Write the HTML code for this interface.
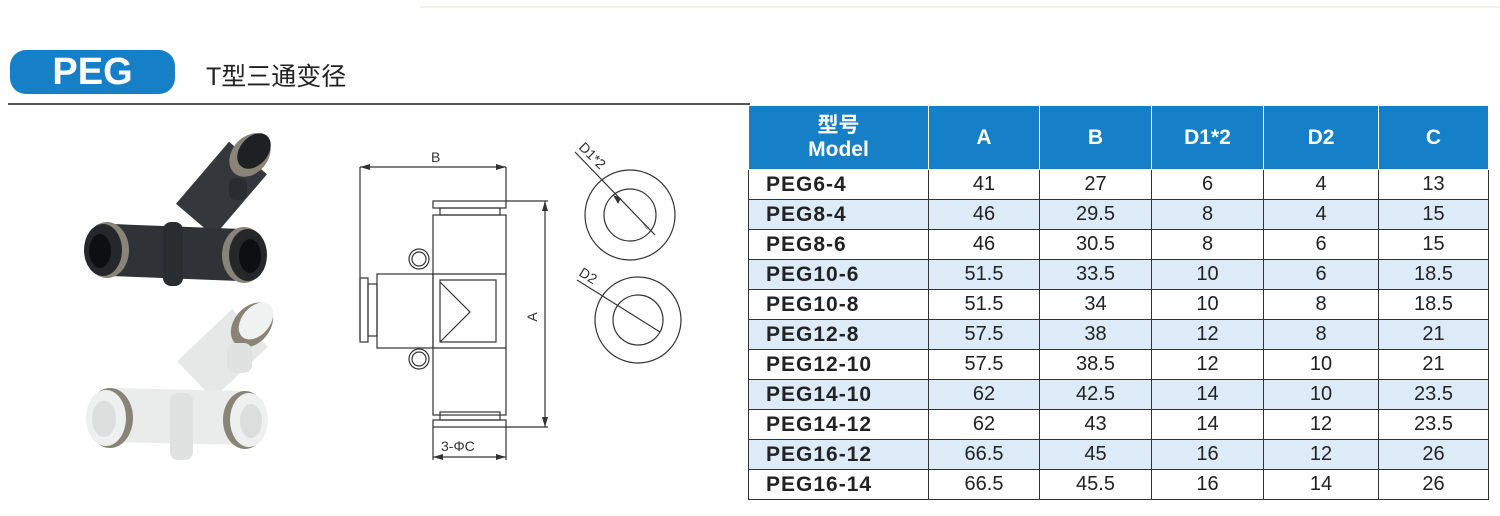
<!DOCTYPE html>
<html><head><meta charset="utf-8"><style>
body{margin:0;width:1500px;height:516px;background:#fff;position:relative;overflow:hidden;font-family:"Liberation Sans","Noto Sans CJK SC",sans-serif}
.badge{position:absolute;left:10px;top:50px;width:165px;height:44px;border-radius:16px;background:#1580c8;color:#fff;font-weight:bold;font-size:38px;text-align:center;line-height:45px}
.title{position:absolute;left:206px;top:57px;font-size:25px;color:#222}
.hr{position:absolute;left:8px;top:103px;width:742px;height:2px;background:#555}
table{position:absolute;left:748px;top:106px;border-collapse:collapse;font-size:20px;color:#222}
td,th{border:1px solid #333;text-align:center;padding:0;height:29px}
th{background:#1580c8;color:#fff;font-size:21px;height:63px;border-color:#fff;border-top:none}
td:first-child{text-align:left;padding-left:17px;font-weight:bold;font-size:21px;letter-spacing:1px}
tr.b td{background:#dcebf7}
</style></head><body>
<div style="position:absolute;left:420px;top:6px;width:1080px;height:2px;background:#f3f3ea"></div>
<div class="badge">PEG</div>
<div class="title">T型三通变径</div>
<div class="hr"></div>
<svg style="position:absolute;left:0;top:110px" width="740" height="406">
<!-- black fitting -->
<g stroke-linecap="butt">
<line x1="195" y1="110" x2="248" y2="48" stroke="#34373b" stroke-width="50"/>
<line x1="112" y1="140" x2="240" y2="145" stroke="#2f3236" stroke-width="52"/>
<ellipse cx="250" cy="45" rx="18" ry="24" transform="rotate(40 250 45)" fill="#8a8478"/>
<ellipse cx="254" cy="41" rx="14" ry="20" transform="rotate(40 254 41)" fill="#1e2023"/>
<ellipse cx="107" cy="140" rx="22" ry="28" fill="#8a8478"/>
<ellipse cx="103" cy="140" rx="19" ry="26" fill="#25282b"/>
<ellipse cx="100" cy="141" rx="11" ry="17" fill="#0e0f10"/>
<ellipse cx="244" cy="145" rx="22" ry="28" fill="#8a8478"/>
<ellipse cx="248" cy="145" rx="19" ry="26" fill="#25282b"/>
<ellipse cx="250" cy="146" rx="11" ry="17" fill="#0e0f10"/>
<rect x="163" y="112" width="20" height="64" rx="8" fill="#2a2d30"/>
<rect x="229" y="68" width="18" height="22" rx="7" fill="#2a2d30"/>
</g>
<!-- white fitting -->
<g>
<line x1="195" y1="270" x2="250" y2="218" stroke="#e6e8e8" stroke-width="52"/>
<line x1="112" y1="305" x2="245" y2="308" stroke="#eaecec" stroke-width="54"/>
<ellipse cx="252" cy="215" rx="18" ry="25" transform="rotate(40 252 215)" fill="#8a8478"/>
<ellipse cx="256" cy="211" rx="14" ry="21" transform="rotate(40 256 211)" fill="#f0f1f1"/>
<ellipse cx="110" cy="308" rx="23" ry="30" fill="#8a8478"/>
<ellipse cx="106" cy="308" rx="20" ry="28" fill="#eeefef"/>
<ellipse cx="104" cy="309" rx="12" ry="18" fill="#dcdede"/>
<ellipse cx="245" cy="310" rx="22" ry="29" fill="#8a8478"/>
<ellipse cx="249" cy="310" rx="19" ry="27" fill="#eeefef"/>
<ellipse cx="251" cy="311" rx="11" ry="17" fill="#dcdede"/>
<rect x="170" y="283" width="23" height="67" rx="8" fill="#e0e2e2"/>
<rect x="227" y="233" width="25" height="30" rx="8" fill="#e0e2e2"/>
</g>
<!-- drawing -->
<g fill="none" stroke="#333" stroke-width="1.2">
<line x1="360" y1="57" x2="506" y2="57"/><line x1="360" y1="57" x2="360" y2="230"/><line x1="506" y1="57" x2="506" y2="91"/>
<rect x="433" y="91" width="73" height="7"/>
<rect x="440" y="98" width="60" height="7"/>
<rect x="433" y="105" width="73" height="200"/>
<rect x="440" y="302" width="60" height="8"/>
<rect x="433" y="310" width="73" height="7"/>
<rect x="360" y="168" width="8" height="64"/>
<rect x="368" y="174" width="9" height="52"/>
<rect x="377" y="164" width="56" height="74"/>
<line x1="433" y1="164" x2="506" y2="164"/><line x1="433" y1="238" x2="506" y2="238"/>
<rect x="440" y="170" width="56" height="62"/>
<polyline points="440,172 470,202 440,232"/>
<circle cx="419" cy="149" r="10"/><circle cx="419" cy="149" r="7"/>
<circle cx="419" cy="249" r="10"/><circle cx="419" cy="249" r="7"/>
<line x1="506" y1="91" x2="548" y2="91"/><line x1="506" y1="317" x2="548" y2="317"/>
<line x1="545" y1="91" x2="545" y2="317"/>
<line x1="433" y1="317" x2="433" y2="350"/><line x1="506" y1="317" x2="506" y2="350"/>
<line x1="433" y1="347" x2="506" y2="347"/>
<circle cx="630" cy="105" r="45"/><circle cx="630" cy="105" r="26"/>
<circle cx="638" cy="210" r="43"/><circle cx="638" cy="210" r="25"/>
<line x1="575" y1="42" x2="655" y2="125"/>
<line x1="577" y1="170" x2="660" y2="222"/>
</g>
<g fill="#333">
<polygon points="360,57 370,54 370,60"/><polygon points="506,57 496,54 496,60"/>
<polygon points="545,91 542,101 548,101"/><polygon points="545,317 542,307 548,307"/>
<polygon points="433,347 443,344 443,350"/><polygon points="506,347 496,344 496,350"/>
<polygon points="613,85 618,94 621,88"/><polygon points="649,121 642,112 646,118"/>
</g>
<g font-family="Liberation Sans" font-size="14" fill="#333">
<text x="431" y="52">B</text>
<text x="537" y="207" transform="rotate(-90 537 207)" text-anchor="middle">A</text>
<text x="441" y="341">3-ΦC</text>
<text x="578" y="38" transform="rotate(45 578 38)">D1*2</text>
<text x="578" y="165" transform="rotate(32 578 165)">D2</text>
</g>
</svg>
<table>
<tr><th style="width:179px;line-height:24px">型号<br>Model</th><th style="width:110px">A</th><th style="width:111px">B</th><th style="width:111px">D1*2</th><th style="width:114px">D2</th><th style="width:109px">C</th></tr>
<tr><td>PEG6-4</td><td>41</td><td>27</td><td>6</td><td>4</td><td>13</td></tr>
<tr class="b"><td>PEG8-4</td><td>46</td><td>29.5</td><td>8</td><td>4</td><td>15</td></tr>
<tr><td>PEG8-6</td><td>46</td><td>30.5</td><td>8</td><td>6</td><td>15</td></tr>
<tr class="b"><td>PEG10-6</td><td>51.5</td><td>33.5</td><td>10</td><td>6</td><td>18.5</td></tr>
<tr><td>PEG10-8</td><td>51.5</td><td>34</td><td>10</td><td>8</td><td>18.5</td></tr>
<tr class="b"><td>PEG12-8</td><td>57.5</td><td>38</td><td>12</td><td>8</td><td>21</td></tr>
<tr><td>PEG12-10</td><td>57.5</td><td>38.5</td><td>12</td><td>10</td><td>21</td></tr>
<tr class="b"><td>PEG14-10</td><td>62</td><td>42.5</td><td>14</td><td>10</td><td>23.5</td></tr>
<tr><td>PEG14-12</td><td>62</td><td>43</td><td>14</td><td>12</td><td>23.5</td></tr>
<tr class="b"><td>PEG16-12</td><td>66.5</td><td>45</td><td>16</td><td>12</td><td>26</td></tr>
<tr><td>PEG16-14</td><td>66.5</td><td>45.5</td><td>16</td><td>14</td><td>26</td></tr>
</table>
</body></html>
